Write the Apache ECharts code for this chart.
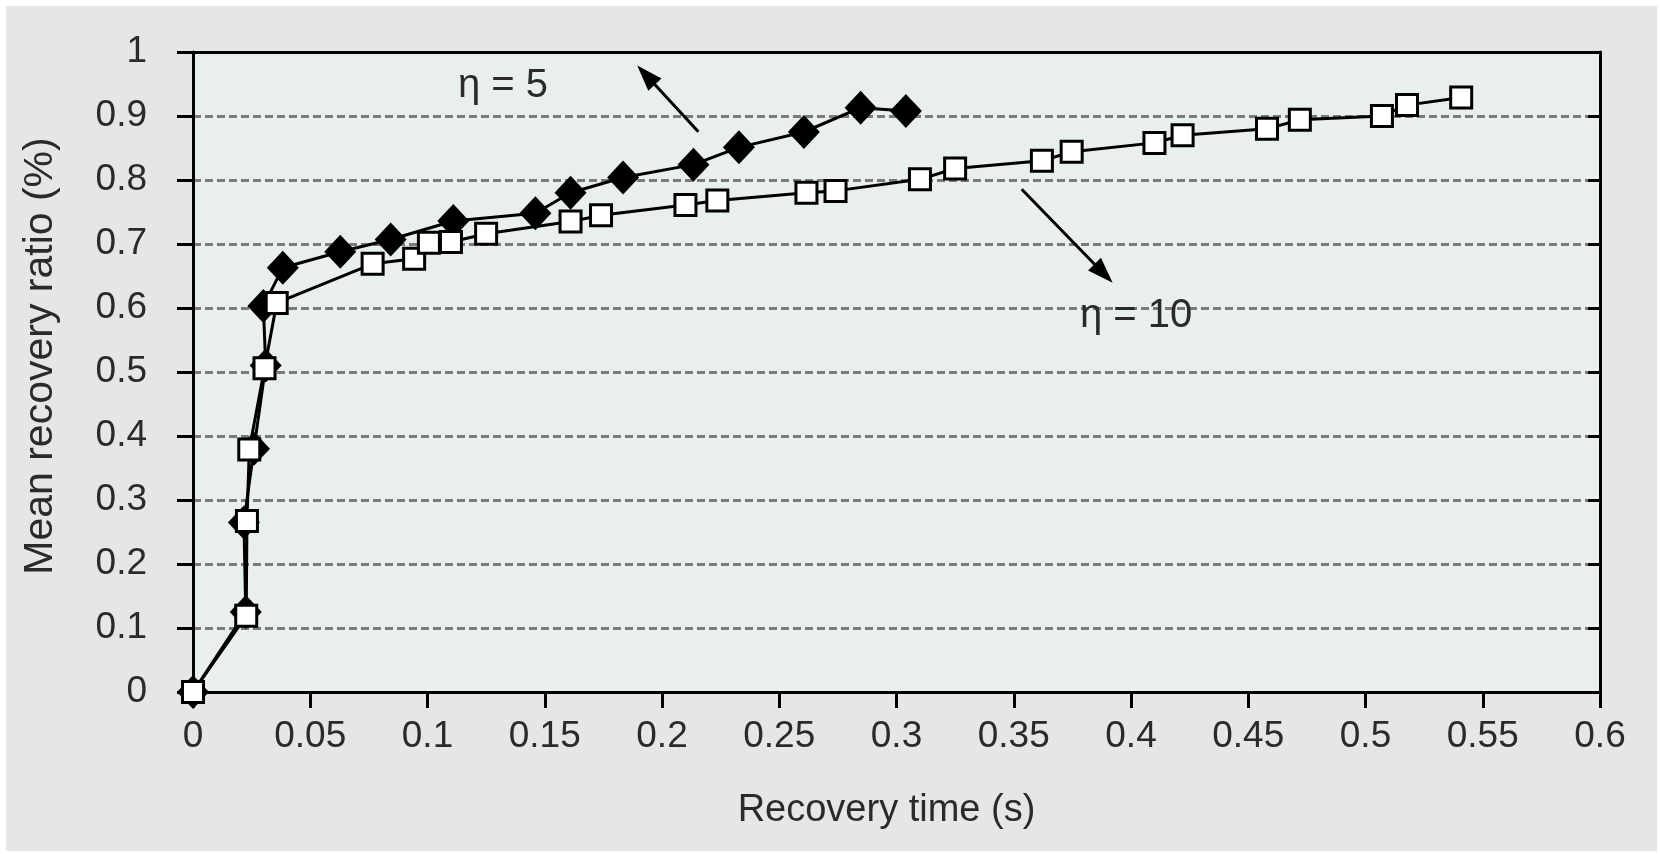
<!DOCTYPE html>
<html>
<head>
<meta charset="utf-8">
<script src="https://cdn.jsdelivr.net/npm/echarts@6/dist/echarts.min.js"></script>
<style>
  html, body { margin: 0; padding: 0; background: #ffffff; }
  #chart { width: 1660px; height: 854px; }
</style>
</head>
<body>
<div id="chart"></div>
<script>
// ---- data ----
const eta5X = [0, 0.0225, 0.0217, 0.026, 0.031, 0.030, 0.0383, 0.0628, 0.0843, 0.111, 0.146, 0.161, 0.1834, 0.2134, 0.2328, 0.2605, 0.2847, 0.304];
const eta5Y = [0, 0.125, 0.265, 0.38, 0.51, 0.603, 0.663, 0.688, 0.707, 0.736, 0.748, 0.78, 0.804, 0.824, 0.851, 0.875, 0.913, 0.908];

const eta10X = [0, 0.0227, 0.023, 0.024, 0.0305, 0.0357, 0.0766, 0.0943, 0.1006, 0.110, 0.125, 0.161, 0.174, 0.210, 0.2236, 0.2616, 0.274, 0.310, 0.325, 0.362, 0.3747, 0.41, 0.422, 0.458, 0.472, 0.507, 0.5177, 0.5408];
const eta10Y = [0, 0.119, 0.267, 0.379, 0.506, 0.608, 0.669, 0.677, 0.702, 0.703, 0.716, 0.735, 0.745, 0.761, 0.768, 0.78, 0.783, 0.801, 0.818, 0.83, 0.844, 0.858, 0.87, 0.88, 0.894, 0.9, 0.917, 0.929];

const xTickLabels = ['0', '0.05', '0.1', '0.15', '0.2', '0.25', '0.3', '0.35', '0.4', '0.45', '0.5', '0.55', '0.6'];
const yTickLabels = ['0', '0.1', '0.2', '0.3', '0.4', '0.5', '0.6', '0.7', '0.8', '0.9', '1'];

const seriesNames = ['η = 5', 'η = 10'];
// annotation arrows (data coordinates): [tail, head centre]
const arrow5 = [[0.2155, 0.8755], [0.1932, 0.964]];
const arrow10 = [[0.3534, 0.7855], [0.3883, 0.654]];

const xTitle = 'Recovery time (s)';
const yTitle = 'Mean recovery ratio (%)';

// ---- chart ----
const FONT = '"Liberation Sans", Arial, sans-serif';
const TXT = '#2a2a2a';
const chart = echarts.init(document.getElementById('chart'), null, { renderer: 'canvas' });

function zip(xs, ys) { return xs.map((x, i) => [x, ys[i]]); }

function arrowLine(a) {
  return {
    silent: true,
    animation: false,
    symbol: ['none', 'triangle'],
    symbolSize: [18, 26],
    label: { show: false },
    lineStyle: { color: '#000', width: 3, type: 'solid' },
    itemStyle: { color: '#000' },
    emphasis: { disabled: true },
    data: [[{ coord: a[0] }, { coord: a[1] }]]
  };
}

const option = {
  animation: false,
  backgroundColor: '#ffffff',
  graphic: [
    { type: 'rect', z: -10, silent: true, shape: { x: 6, y: 6, width: 1651, height: 845 }, style: { fill: '#e6e6e6' } },
    { type: 'text', z: 100, silent: true, style: { x: 458, y: 86, text: seriesNames[0], font: '40px ' + FONT, fill: TXT, textVerticalAlign: 'middle', textAlign: 'left' } },
    { type: 'text', z: 100, silent: true, style: { x: 1080, y: 316, text: seriesNames[1], font: '40px ' + FONT, fill: TXT, textVerticalAlign: 'middle', textAlign: 'left' } }
  ],
  grid: {
    left: 193, right: 60, top: 52, bottom: 162,
    show: true, backgroundColor: '#e9eeee', borderWidth: 0
  },
  xAxis: [
    {
      type: 'value', min: 0, max: 0.6, interval: 0.05,
      position: 'bottom',
      name: xTitle, nameLocation: 'middle', nameGap: 100,
      nameTextStyle: { fontFamily: FONT, fontSize: 38, color: TXT, padding: [0, 20, 0, 0] },
      axisLine: { show: true, onZero: false, lineStyle: { color: '#000', width: 3 } },
      axisTick: { show: true, length: 16, lineStyle: { color: '#000', width: 3 } },
      axisLabel: {
        margin: 26, fontFamily: FONT, fontSize: 37, color: TXT,
        formatter: v => xTickLabels[Math.round(v / 0.05)]
      },
      splitLine: { show: false }
    },
    {
      type: 'value', min: 0, max: 0.6, interval: 0.05, position: 'top',
      axisLine: { show: true, onZero: false, lineStyle: { color: '#000', width: 3 } },
      axisTick: { show: false }, axisLabel: { show: false }, splitLine: { show: false }
    }
  ],
  yAxis: [
    {
      type: 'value', min: 0, max: 1, interval: 0.1, position: 'left',
      name: yTitle, nameLocation: 'middle', nameGap: 132,
      nameTextStyle: { fontFamily: FONT, fontSize: 41, color: TXT, padding: [0, 0, 0, 32] },
      axisLine: { show: true, onZero: false, lineStyle: { color: '#000', width: 3 } },
      axisTick: { show: true, length: 16, lineStyle: { color: '#000', width: 3 } },
      axisLabel: {
        margin: 46, fontFamily: FONT, fontSize: 37, color: TXT,
        formatter: v => yTickLabels[Math.round(v / 0.1)]
      },
      splitLine: { show: true, lineStyle: { color: '#7a7a7a', width: 3, type: [8, 4] } }
    },
    {
      type: 'value', min: 0, max: 1, interval: 0.1, position: 'right',
      axisLine: { show: true, onZero: false, lineStyle: { color: '#000', width: 3 } },
      axisTick: { show: true, inside: true, length: 12, lineStyle: { color: '#000', width: 3 } },
      axisLabel: { show: false }, splitLine: { show: false }
    }
  ],
  series: [
    {
      name: seriesNames[0], type: 'line', xAxisIndex: 0, yAxisIndex: 0,
      data: zip(eta5X, eta5Y),
      symbol: 'diamond', symbolSize: [32, 34],
      itemStyle: { color: '#000', borderColor: '#000', borderWidth: 0 },
      lineStyle: { color: '#000', width: 3 },
      emphasis: { disabled: true },
      markLine: arrowLine(arrow5)
    },
    {
      name: seriesNames[1], type: 'line', xAxisIndex: 0, yAxisIndex: 0,
      data: zip(eta10X, eta10Y),
      symbol: 'rect', symbolSize: 21,
      itemStyle: { color: '#ffffff', borderColor: '#000', borderWidth: 3 },
      lineStyle: { color: '#000', width: 3 },
      emphasis: { disabled: true },
      markLine: arrowLine(arrow10)
    }
  ]
};
chart.setOption(option);
</script>
</body>
</html>
